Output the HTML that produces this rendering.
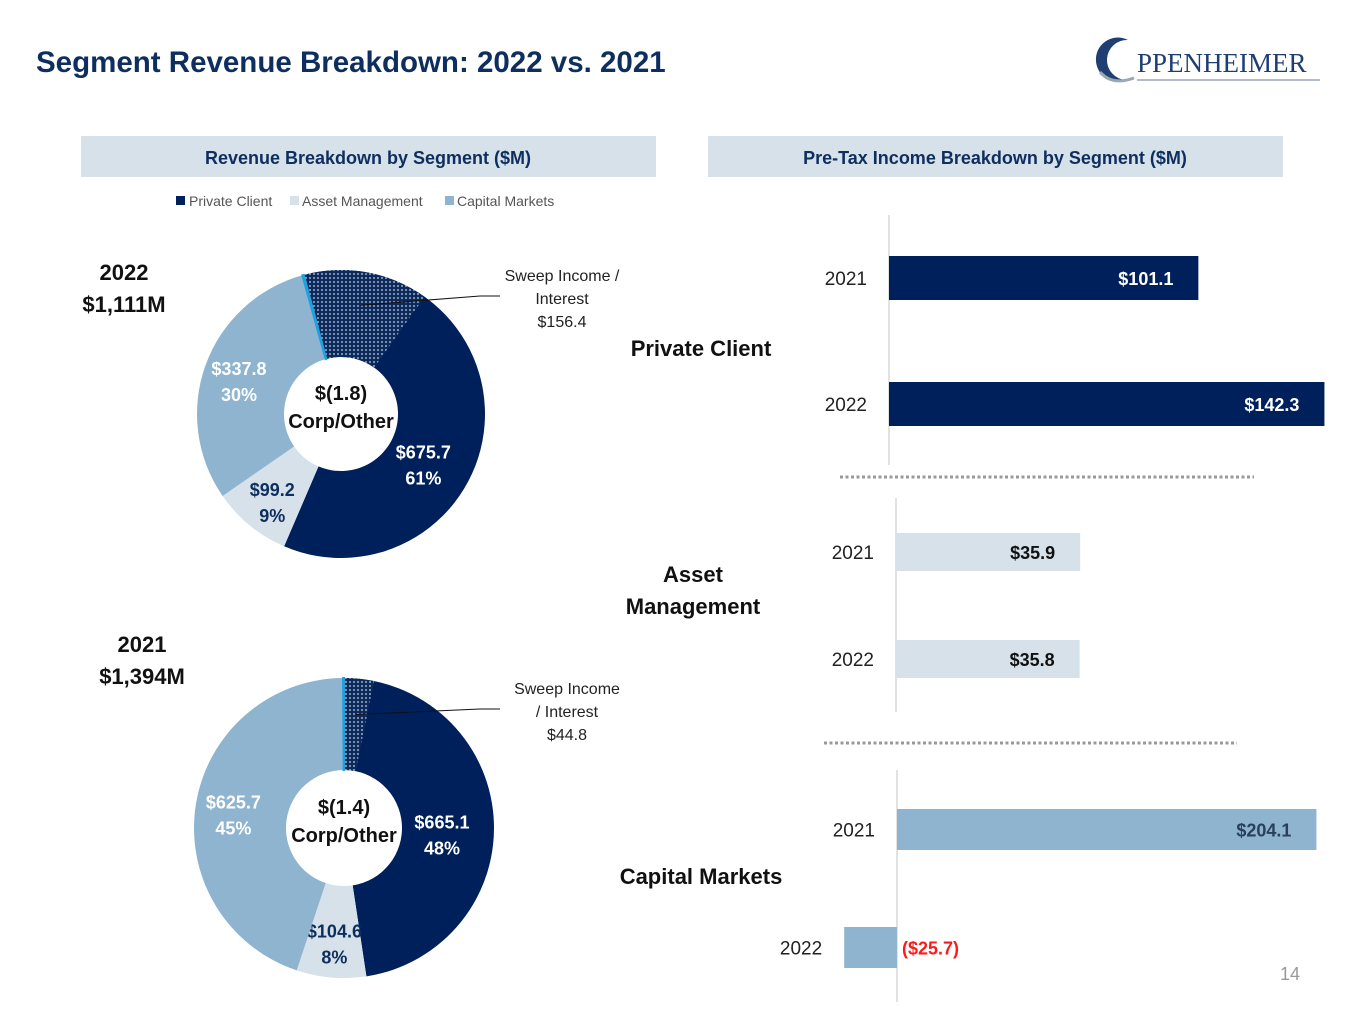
<!DOCTYPE html>
<html><head><meta charset="utf-8">
<style>
body{margin:0;width:1365px;height:1024px;background:#fff;overflow:hidden;font-family:"Liberation Sans","DejaVu Sans",sans-serif;}
svg{display:block}
</style></head>
<body>
<svg id="c" width="1365" height="1024" viewBox="0 0 1365 1024" xmlns="http://www.w3.org/2000/svg">
<defs>
<pattern id="dots" width="4" height="4" patternUnits="userSpaceOnUse">
<rect width="4" height="4" fill="#0d2a5c"/><circle cx="2" cy="2" r="0.9" fill="#c9d3e2"/>
</pattern>
</defs>
<text x="36" y="72" font-size="29.5" font-weight="bold" fill="#0d2e5e">Segment Revenue Breakdown: 2022 vs. 2021</text>
<g>
<path d="M1128 40 A22 22 0 1 0 1126 80 A20 20 0 1 1 1128 40Z" fill="#1f3f73"/>
<path d="M1100 72 Q1112 86 1134 78" stroke="#9aa7b5" stroke-width="3" fill="none"/>
<text x="1137" y="72" font-size="27" font-family="Liberation Serif,serif" fill="#1f3f73">PPENHEIMER</text>
<line x1="1137" y1="80" x2="1320" y2="80" stroke="#9aa7b5" stroke-width="1.5"/>
</g>
<rect x="81" y="136" width="575" height="41" fill="#d6e1ea"/>
<text x="368" y="164" font-size="18" font-weight="bold" fill="#0d2e5e" text-anchor="middle">Revenue Breakdown by Segment ($M)</text>
<rect x="708" y="136" width="575" height="41" fill="#d6e1ea"/>
<text x="995" y="164" font-size="18" font-weight="bold" fill="#0d2e5e" text-anchor="middle">Pre-Tax Income Breakdown by Segment ($M)</text>
<g font-size="14" fill="#555">
<rect x="176" y="196" width="9" height="9" fill="#00205b"/><text x="189" y="206">Private Client</text>
<rect x="290" y="196" width="9" height="9" fill="#d6e1ea"/><text x="302" y="206">Asset Management</text>
<rect x="445" y="196" width="9" height="9" fill="#8eb4cf"/><text x="457" y="206">Capital Markets</text>
</g>
<g font-size="22" font-weight="bold" fill="#111" text-anchor="middle">
<text x="124" y="280">2022</text>
<text x="124" y="312">$1,111M</text>
<text x="142" y="652">2021</text>
<text x="142" y="684">$1,394M</text>
<text x="701" y="356">Private Client</text>
<text x="693" y="582">Asset</text>
<text x="693" y="614">Management</text>
<text x="701" y="884">Capital Markets</text>
</g>
<g font-size="16" fill="#222" text-anchor="middle">
<text x="562" y="281">Sweep Income /</text>
<text x="562" y="304">Interest</text>
<text x="562" y="327">$156.4</text>
<text x="567" y="694">Sweep Income</text>
<text x="567" y="717">/ Interest</text>
<text x="567" y="740">$44.8</text>
</g>
<line x1="840" y1="477" x2="1254" y2="477" stroke="#999" stroke-width="3" stroke-dasharray="3,2.5"/>
<line x1="824" y1="743" x2="1237" y2="743" stroke="#999" stroke-width="3" stroke-dasharray="3,2.5"/>
<text x="1300" y="980" font-size="18" fill="#999" text-anchor="end">14</text>
<g id="donuts"></g>
<g id="bars"></g>
</svg>
<script>
const segments = ["Private Client","Asset Management","Capital Markets","Corp/Other"];
const rev2022 = [675.7, 99.2, 337.8, 1.8];
const rev2021 = [665.1, 104.6, 625.7, 1.4];
const sweep2022 = 156.4;
const sweep2021 = 44.8;
const pct2022 = ["61%","9%","30%"];
const pct2021 = ["48%","8%","45%"];
const corp2022Label = "$(1.8)";
const corp2021Label = "$(1.4)";
const barYears = ["2021","2022"];
const pcIncome = [101.1, 142.3];
const amIncome = [35.9, 35.8];
const cmIncome = [204.1, -25.7];

const NS="http://www.w3.org/2000/svg";
function mk(tag, attrs, parent){const e=document.createElementNS(NS,tag);for(const k in attrs)e.setAttribute(k,attrs[k]);parent.appendChild(e);return e;}
function pt(cx,cy,r,a){const t=(a-90)*Math.PI/180;return [cx+r*Math.cos(t),cy+r*Math.sin(t)];}
function arcPath(cx,cy,ro,ri,a0,a1){
  const large=(a1-a0)>180?1:0;
  const p0=pt(cx,cy,ro,a0),p1=pt(cx,cy,ro,a1),p2=pt(cx,cy,ri,a1),p3=pt(cx,cy,ri,a0);
  return `M${p0[0]},${p0[1]}A${ro},${ro} 0 ${large} 1 ${p1[0]},${p1[1]}L${p2[0]},${p2[1]}A${ri},${ri} 0 ${large} 0 ${p3[0]},${p3[1]}Z`;
}
const colors=["#00205b","#d6e1ea","#8eb4cf","#1fa0e0"];
const labelCols=["#fff","#0d2e5e","#fff"];
const dg=document.getElementById('donuts');
function donut(vals,sweep,pcts,corpLbl,cx,cy,ro,ri,start,lead,name){
  const g=mk('g',{},dg);
  
  
  const total=vals.reduce((a,b)=>a+b,0);
  let a=start;
  vals.forEach((v,i)=>{
    const sw=v/total*360;
    const p=mk('path',{d:arcPath(cx,cy,ro,ri,a,a+sw),fill:colors[i],stroke:i==3?colors[3]:'none','stroke-width':i==3?2:0},g);
    
    
    if(i==0){
      const ss=sweep/total*360;
      const s=mk('path',{d:arcPath(cx,cy,ro,ri,a,a+ss),fill:'url(#dots)'},g);
      
      
      const mid=pt(cx,cy,(ro+ri)/2+10,a+ss/2);
      const l=mk('polyline',{points:`${mid[0]},${mid[1]} ${lead[0]},${lead[1]} ${lead[0]+20},${lead[1]}`,fill:'none',stroke:'#111','stroke-width':1},g);
      
      
    }
    if(i<3){
      let la=a+sw/2; let rr=(ro+ri)/2+8;
      if(i==0){ la=a+(sweep/total*360)+(sw-sweep/total*360)/2; rr=(ro+ri)/2-6; }
      const lp=pt(cx,cy,rr,la);
      const t=mk('text',{x:lp[0],y:lp[1]-2,'font-size':18,'font-weight':'bold',fill:labelCols[i],'text-anchor':'middle'},g);
      t.textContent='$'+vals[i].toFixed(1);
      
      
      const t2=mk('text',{x:lp[0],y:lp[1]+24,'font-size':18,'font-weight':'bold',fill:labelCols[i],'text-anchor':'middle'},g);
      t2.textContent=pcts[i];
      
      
    }
    a+=sw;
  });
  const c1=mk('text',{x:cx,y:cy-14,'font-size':20,'font-weight':'bold',fill:'#111','text-anchor':'middle'},g);
  c1.textContent=corpLbl;
  
  
  const c2=mk('text',{x:cx,y:cy+14,'font-size':20,'font-weight':'bold',fill:'#111','text-anchor':'middle'},g);
  c2.textContent='Corp/Other';
  
  
}
donut(rev2022,sweep2022,pct2022,corp2022Label,341,414,144,57,-15,[480,296],'donut-2022');
donut(rev2021,sweep2021,pct2021,corp2021Label,344,828,150,58,0,[480,709],'donut-2021');

const bg=document.getElementById('bars');
function panel(vals,axisX,y0,y1,barYs,barH,scale,fill,lblCol,name){
  const g=mk('g',{},bg);
  
  
  const ax=mk('line',{x1:axisX,y1:y0,x2:axisX,y2:y1,stroke:'#d9d9d9','stroke-width':1.5},g);
  
  
  vals.forEach((v,i)=>{
    const w=Math.abs(v)*scale, x=v>=0?axisX:axisX-w;
    const r=mk('rect',{x:x,y:barYs[i],width:w,height:barH,fill:fill},g);
    
    
    const yl=mk('text',{x:(v>=0?axisX:x)-22,y:barYs[i]+barH/2+7,'font-size':19,fill:'#222','text-anchor':'end'},g);
    yl.textContent=barYears[i];
    
    
    const vt=v>=0?'$'+v.toFixed(1):'($'+Math.abs(v).toFixed(1)+')';
    const t=mk('text',{x:v>=0?axisX+w-25:axisX+5,y:barYs[i]+barH/2+7,'font-size':18,'font-weight':'bold',fill:v>=0?lblCol:'#ff1a1a','text-anchor':v>=0?'end':'start'},g);
    t.textContent=vt;
    
    
  });
}
panel(pcIncome,889,215,465,[256,382],44,3.06,'#00205b','#fff','private-client-bars');
panel(amIncome,896,498,712,[533,640],38,5.13,'#d6e1ea','#111','asset-management-bars');
panel(cmIncome,897,770,1002,[809,927],41,2.055,'#8eb4cf','#2a3f5a','capital-markets-bars');
</script>
</body></html>
